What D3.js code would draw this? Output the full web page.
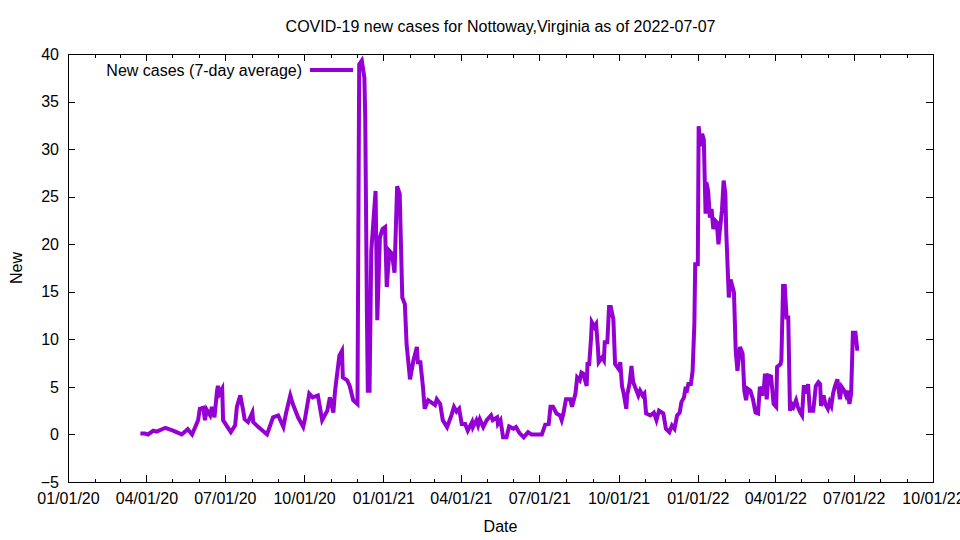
<!DOCTYPE html>
<html>
<head>
<meta charset="utf-8">
<script src="https://cdn.jsdelivr.net/npm/d3@7"></script>
<style>
  body { margin: 0; background: #fff; }
  svg { display: block; }
</style>
</head>
<body>
<div id="chart"></div>
<script>
// Values (7-day average of new cases)
const dates = [
  "2020-03-25","2020-03-30","2020-04-03","2020-04-09","2020-04-13","2020-04-23","2020-05-02","2020-05-12",
  "2020-05-19","2020-05-24","2020-05-31","2020-06-02","2020-06-06","2020-06-08","2020-06-10","2020-06-14",
  "2020-06-16","2020-06-19","2020-06-22","2020-06-23","2020-06-25","2020-06-28","2020-06-29","2020-07-04",
  "2020-07-08","2020-07-13","2020-07-15","2020-07-19","2020-07-22","2020-07-24","2020-07-28","2020-08-02",
  "2020-08-03","2020-08-09","2020-08-19","2020-08-26","2020-09-01","2020-09-07","2020-09-10","2020-09-15",
  "2020-09-18","2020-09-24","2020-09-30","2020-10-02","2020-10-07","2020-10-11","2020-10-17","2020-10-22",
  "2020-10-28","2020-10-31","2020-11-04","2020-11-06","2020-11-11","2020-11-14","2020-11-15","2020-11-20",
  "2020-11-23","2020-11-27","2020-12-02","2020-12-04","2020-12-07","2020-12-10","2020-12-11","2020-12-13",
  "2020-12-14","2020-12-16","2020-12-18","2020-12-20","2020-12-23","2020-12-25","2020-12-28","2020-12-31",
  "2021-01-03","2021-01-05","2021-01-08","2021-01-11","2021-01-14","2021-01-17","2021-01-20","2021-01-23",
  "2021-01-26","2021-01-28","2021-02-01","2021-02-05","2021-02-09","2021-02-10","2021-02-13","2021-02-16",
  "2021-02-18","2021-02-22","2021-03-02","2021-03-04","2021-03-08","2021-03-11","2021-03-16","2021-03-21",
  "2021-03-24","2021-03-27","2021-03-30","2021-04-02","2021-04-06","2021-04-09","2021-04-14","2021-04-15",
  "2021-04-19","2021-04-21","2021-04-23","2021-04-27","2021-05-01","2021-05-06","2021-05-08","2021-05-13",
  "2021-05-14","2021-05-17","2021-05-20","2021-05-24","2021-05-27","2021-06-01","2021-06-04","2021-06-08",
  "2021-06-13","2021-06-18","2021-06-22","2021-07-04","2021-07-08","2021-07-12","2021-07-14","2021-07-17",
  "2021-07-21","2021-07-25","2021-07-27","2021-07-29","2021-08-01","2021-08-06","2021-08-08","2021-08-12",
  "2021-08-14","2021-08-17","2021-08-19","2021-08-21","2021-08-25","2021-08-26","2021-08-28","2021-08-30",
  "2021-08-31","2021-09-03","2021-09-05","2021-09-07","2021-09-08","2021-09-12","2021-09-14","2021-09-15",
  "2021-09-18","2021-09-20","2021-09-22","2021-09-25","2021-09-27","2021-10-01","2021-10-03","2021-10-05",
  "2021-10-07","2021-10-10","2021-10-11","2021-10-14","2021-10-16","2021-10-18","2021-10-21","2021-10-24",
  "2021-10-26","2021-10-29","2021-10-31","2021-11-02","2021-11-07","2021-11-11","2021-11-14","2021-11-17",
  "2021-11-22","2021-11-25","2021-11-29","2021-12-02","2021-12-05","2021-12-08","2021-12-11","2021-12-13",
  "2021-12-16","2021-12-18","2021-12-19","2021-12-21","2021-12-24","2021-12-26","2021-12-28","2021-12-29",
  "2022-01-01","2022-01-02","2022-01-04","2022-01-06","2022-01-08","2022-01-10","2022-01-11","2022-01-13",
  "2022-01-15","2022-01-17","2022-01-19","2022-01-21","2022-01-23","2022-01-25","2022-01-27","2022-01-29",
  "2022-01-31","2022-02-02","2022-02-03","2022-02-06","2022-02-08","2022-02-11","2022-02-12","2022-02-14",
  "2022-02-16","2022-02-19","2022-02-22","2022-02-24","2022-02-26","2022-02-28","2022-03-03","2022-03-06",
  "2022-03-09","2022-03-12","2022-03-14","2022-03-16","2022-03-18","2022-03-20","2022-03-22","2022-03-24",
  "2022-03-27","2022-03-30","2022-04-02","2022-04-03","2022-04-07","2022-04-08","2022-04-10","2022-04-12",
  "2022-04-14","2022-04-16","2022-04-18","2022-04-20","2022-04-22","2022-04-25","2022-04-27","2022-04-30",
  "2022-05-02","2022-05-04","2022-05-06","2022-05-08","2022-05-09","2022-05-11","2022-05-15","2022-05-18",
  "2022-05-21","2022-05-23","2022-05-24","2022-05-27","2022-05-29","2022-06-01","2022-06-03","2022-06-05",
  "2022-06-07","2022-06-09","2022-06-12","2022-06-15","2022-06-17","2022-06-20","2022-06-22","2022-06-24",
  "2022-06-26","2022-06-28","2022-06-30","2022-07-03","2022-07-05","2022-07-07"
];
const newCases = [
  0.1, 0.1, 0.0, 0.4, 0.3, 0.7, 0.4, 0.0,
  0.55, 0.0, 1.5, 2.7, 2.8, 1.5, 2.6, 2.0,
  2.9, 1.8, 4.6, 5.1, 4.3, 4.8, 1.5, 0.8,
  0.25, 0.95, 2.9, 4.1, 2.7, 1.6, 1.3, 2.3,
  1.3, 0.77, 0.0, 1.8, 2.0, 0.8, 2.2, 4.1,
  3.2, 1.8, 0.8, 1.6, 4.3, 3.9, 4.1, 1.5,
  2.5, 3.9, 2.3, 4.6, 8.3, 8.8, 6.0, 5.7,
  5.1, 3.6, 3.2, 38.9, 39.3, 37.5, 33.3, 12.3,
  4.6, 4.6, 19.3, 21.8, 25.6, 12.0, 20.7, 21.6,
  21.8, 15.5, 19.3, 19.0, 17.0, 26.1, 25.3, 14.4,
  13.7, 9.5, 5.8, 7.8, 9.2, 7.6, 7.6, 5.0,
  2.7, 3.6, 3.1, 3.7, 3.2, 1.5, 0.77, 2.0,
  2.9, 2.4, 2.7, 1.1, 1.1, 0.4, 1.3, 0.77,
  1.5, 0.95, 1.6, 0.77, 1.5, 2.0, 1.5, 1.8,
  1.1, 1.5, -0.3, -0.3, 0.84, 0.6, 0.77, 0.14,
  -0.3, 0.24, 0.0, 0.0, 1.05, 1.1, 2.9, 2.9,
  2.2, 2.0, 1.5, 2.2, 3.7, 3.7, 2.9, 4.3,
  6.0, 5.7, 6.5, 6.4, 5.1, 7.4, 7.4, 10.0,
  11.8, 11.3, 11.6, 9.2, 7.6, 8.1, 7.8, 9.7,
  9.7, 13.4, 13.4, 12.1, 7.4, 6.9, 7.6, 5.1,
  4.3, 2.7, 4.1, 5.5, 7.2, 5.5, 4.8, 4.1,
  4.6, 4.1, 4.3, 2.2, 2.0, 2.3, 1.5, 2.5,
  2.2, 0.6, 0.24, 0.95, 0.6, 2.0, 2.3, 3.4,
  3.9, 5.0, 4.4, 5.3, 5.3, 6.7, 11.6, 17.9,
  17.9, 32.4, 30.3, 31.6, 31.0, 23.2, 26.5, 25.6,
  22.8, 23.7, 21.6, 22.5, 22.3, 20.0, 21.8, 23.5,
  26.7, 25.3, 21.4, 14.4, 16.3, 15.3, 14.9, 8.8,
  6.7, 9.2, 8.5, 4.6, 3.6, 4.8, 4.6, 3.7,
  2.3, 2.2, 5.0, 4.6, 4.1, 6.4, 3.7, 6.2,
  6.1, 3.2, 2.9, 7.1, 7.4, 7.8, 15.6, 15.6,
  12.3, 12.3, 2.5, 3.2, 2.9, 3.6, 2.9, 2.3,
  2.0, 5.0, 5.0, 4.3, 5.3, 2.5, 2.5, 5.1,
  5.5, 5.3, 3.0, 4.1, 3.2, 2.7, 3.4, 3.0,
  4.3, 5.0, 5.8, 3.7, 5.0, 4.6, 4.1, 4.6,
  3.2, 4.3, 10.7, 10.7, 9.0, 9.0
];
const xTickDates = [
  "2020-01-01","2020-04-01","2020-07-01","2020-10-01","2021-01-01","2021-04-01",
  "2021-07-01","2021-10-01","2022-01-01","2022-04-01","2022-07-01","2022-10-01"
];
const yTicks = [-5, 0, 5, 10, 15, 20, 25, 30, 35, 40];

const titleText = "COVID-19 new cases for Nottoway,Virginia as of 2022-07-07";
const legendText = "New cases (7-day average)";

// Chart dimensions
const width = 960;
const height = 540;
const margin = { top: 54, right: 27, bottom: 58, left: 68 };
const lineColor = "#9400d3";
const font = "'Liberation Sans', Arial, sans-serif";

const parse = d3.utcParse("%Y-%m-%d");
const series = dates.map((d, i) => ({ date: parse(d), value: newCases[i] }));
const tickDates = xTickDates.map(parse);

const svg = d3.select("#chart")
  .append("svg")
  .attr("width", width)
  .attr("height", height)
  .style("font-family", font);

// Scales
const x = d3.scaleUtc()
  .domain([tickDates[0], tickDates[tickDates.length - 1]])
  .range([margin.left, width - margin.right]);

const y = d3.scaleLinear()
  .domain([yTicks[0], yTicks[yTicks.length - 1]])
  .range([height - margin.bottom, margin.top]);

const monthTicks = d3.utcMonth.range(x.domain()[0], x.domain()[1])
  .filter((d) => !tickDates.some((t) => +t === +d));

// Axes (ticks point inward, mirrored on top and right like gnuplot)
function styleAxis(g, size) {
  g.select(".domain").remove();
  g.selectAll("line").attr("stroke", "#000").attr("shape-rendering", "crispEdges");
  g.selectAll("text").attr("fill", "#000").style("font-size", size);
}

svg.append("g")
  .attr("transform", `translate(0,${height - margin.bottom})`)
  .call(d3.axisBottom(x).tickValues(tickDates).tickFormat(d3.utcFormat("%m/%d/%y"))
    .tickSize(-7).tickPadding(11))
  .call((g) => styleAxis(g, "16px"));

svg.append("g")
  .attr("transform", `translate(0,${height - margin.bottom})`)
  .call(d3.axisBottom(x).tickValues(monthTicks).tickFormat("").tickSize(-3.5))
  .call((g) => styleAxis(g, "16px"));

svg.append("g")
  .attr("transform", `translate(0,${margin.top})`)
  .call(d3.axisTop(x).tickValues(tickDates).tickFormat("").tickSize(-7))
  .call((g) => styleAxis(g, "16px"));

svg.append("g")
  .attr("transform", `translate(0,${margin.top})`)
  .call(d3.axisTop(x).tickValues(monthTicks).tickFormat("").tickSize(-3.5))
  .call((g) => styleAxis(g, "16px"));

svg.append("g")
  .attr("transform", `translate(${margin.left},0)`)
  .call(d3.axisLeft(y).tickValues(yTicks).tickSize(-7).tickPadding(9))
  .call((g) => styleAxis(g, "16px"));

svg.append("g")
  .attr("transform", `translate(${width - margin.right},0)`)
  .call(d3.axisRight(y).tickValues(yTicks).tickFormat("").tickSize(-7))
  .call((g) => styleAxis(g, "16px"));

// Frame
svg.append("rect")
  .attr("x", margin.left)
  .attr("y", margin.top)
  .attr("width", width - margin.left - margin.right)
  .attr("height", height - margin.top - margin.bottom)
  .attr("fill", "none")
  .attr("stroke", "#000")
  .attr("shape-rendering", "crispEdges");

// Line
const line = d3.line()
  .x((d) => x(d.date))
  .y((d) => y(d.value));

svg.append("path")
  .datum(series)
  .attr("fill", "none")
  .attr("stroke", lineColor)
  .attr("stroke-width", 4)
  .attr("stroke-linejoin", "miter")
  .attr("d", line);

// Legend
svg.append("text")
  .attr("x", 302)
  .attr("y", 76)
  .attr("text-anchor", "end")
  .style("font-size", "16px")
  .text(legendText);

svg.append("line")
  .attr("x1", 310)
  .attr("x2", 353)
  .attr("y1", 70)
  .attr("y2", 70)
  .attr("stroke", lineColor)
  .attr("stroke-width", 4);

// Title and axis labels
svg.append("text")
  .attr("x", (margin.left + width - margin.right) / 2)
  .attr("y", 32)
  .attr("text-anchor", "middle")
  .style("font-size", "16px")
  .text(titleText);

svg.append("text")
  .attr("x", (margin.left + width - margin.right) / 2)
  .attr("y", 532)
  .attr("text-anchor", "middle")
  .style("font-size", "16px")
  .text("Date");

svg.append("text")
  .attr("transform", `translate(22,${(margin.top + height - margin.bottom) / 2}) rotate(-90)`)
  .attr("text-anchor", "middle")
  .style("font-size", "16px")
  .text("New");
</script>
</body>
</html>
